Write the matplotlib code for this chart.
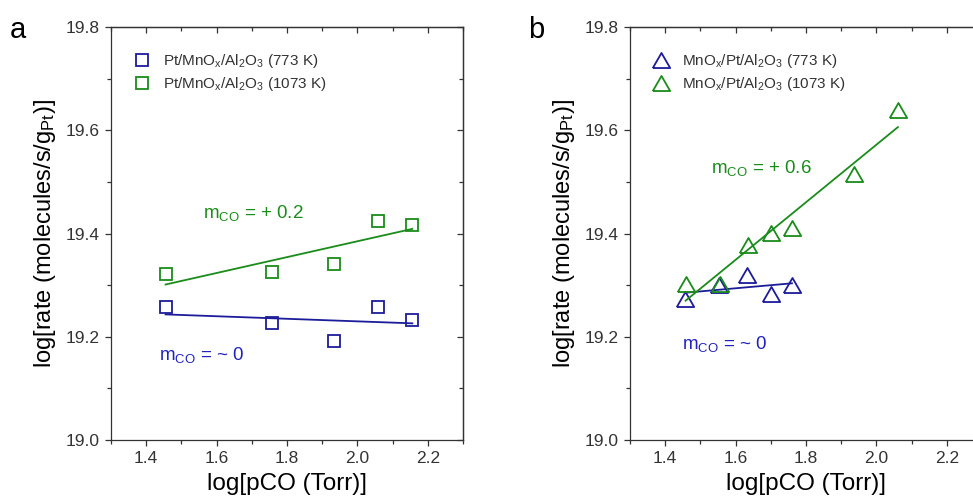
import numpy as np
import matplotlib
matplotlib.use("Agg")
import matplotlib.pyplot as plt
from matplotlib.ticker import MultipleLocator

plt.rcParams["font.family"] = ["Liberation Sans", "DejaVu Sans"]
plt.rcParams["mathtext.default"] = "regular"

### DATA ###

# panel a: Pt/MnOx/Al2O3
a_x = [1.455, 1.757, 1.934, 2.058, 2.156]
a_773 = [19.258, 19.226, 19.191, 19.258, 19.233]
a_1073 = [19.321, 19.325, 19.341, 19.425, 19.416]

# panel b: MnOx/Pt/Al2O3
b_x_773 = [1.457, 1.554, 1.633, 1.701, 1.760]
b_773 = [19.273, 19.300, 19.320, 19.283, 19.301]
b_x_1073 = [1.458, 1.556, 1.634, 1.701, 1.760, 1.936, 2.061]
b_1073 = [19.302, 19.302, 19.379, 19.402, 19.411, 19.516, 19.639]

a_labels = [r"Pt/MnO$_x$/Al$_2$O$_3$ (773 K)", r"Pt/MnO$_x$/Al$_2$O$_3$ (1073 K)"]
b_labels = [r"MnO$_x$/Pt/Al$_2$O$_3$ (773 K)", r"MnO$_x$/Pt/Al$_2$O$_3$ (1073 K)"]
a_slopes = [r"m$_{CO}$ = ~ 0", r"m$_{CO}$ = + 0.2"]
b_slopes = [r"m$_{CO}$ = ~ 0", r"m$_{CO}$ = + 0.6"]

### STYLE ###

BLUE = "#1c1c9a"
BLUE_TXT = "#2222c0"
GREEN = "#1a8c1a"
GRAY = "#333333"
TRI = [(-1, -0.866), (1, -0.866), (0, 0.866), (-1, -0.866)]


def fit_line(x, y):
    """Least-squares line over the span of the points."""
    k, b = np.polyfit(x, y, 1)
    xs = np.array([min(x), max(x)])
    return xs, k * xs + b


def set_ticks(axis):
    axis.set_major_locator(MultipleLocator(0.2))
    axis.set_minor_locator(MultipleLocator(0.1))


def style_axes(ax):
    ax.set_xlim(1.3, 2.3)
    ax.set_ylim(19.0, 19.8)
    set_ticks(ax.xaxis)
    set_ticks(ax.yaxis)
    ax.xaxis.set_major_formatter(plt.FormatStrFormatter("%.1f"))
    ax.yaxis.set_major_formatter(plt.FormatStrFormatter("%.1f"))
    for s in ax.spines.values():
        s.set_color(GRAY)
        s.set_linewidth(0.9)
    ax.tick_params(which="both", direction="out", colors=GRAY, width=0.9,
                   labelsize=12.5, pad=3.5)
    ax.tick_params(which="major", length=4.5)
    ax.tick_params(which="minor", length=2.8)

    # mirrored inward ticks on top and right
    top = ax.secondary_xaxis("top")
    right = ax.secondary_yaxis("right")
    set_ticks(top.xaxis)
    set_ticks(right.yaxis)
    for sec in [top, right]:
        sec.tick_params(which="both", direction="in", colors=GRAY, width=0.9,
                        labeltop=False, labelright=False)
        sec.tick_params(which="major", length=4.5)
        sec.tick_params(which="minor", length=2.8)
        for s in sec.spines.values():
            s.set_color(GRAY)
            s.set_linewidth(0.9)

    ax.set_xlabel("log[pCO (Torr)]", fontsize=17.5, labelpad=5)
    ax.set_ylabel(r"log[rate (molecules/s/g$_{Pt}$)]", fontsize=17, labelpad=6)


fig = plt.figure(figsize=(9.73, 5.03), dpi=100)
ax1 = fig.add_axes([0.1141, 0.1252, 0.3618, 0.8205])
ax2 = fig.add_axes([0.6475, 0.1252, 0.3618, 0.8205])

# --- panel a ---
for y, c, lab in [(a_773, BLUE, a_labels[0]), (a_1073, GREEN, a_labels[1])]:
    ax1.plot(a_x, y, ls="none", marker="s", ms=9, mew=1.3, mfc="none",
             mec=c, label=lab)
    xs, ys = fit_line(a_x, y)
    ax1.plot(xs, ys, color=c, lw=1.3)

ax1.text(1.436, 19.165, a_slopes[0], color=BLUE_TXT, fontsize=13.5, va="center")
ax1.text(1.56, 19.44, a_slopes[1], color=GREEN, fontsize=13.5, va="center")

# --- panel b ---
for x, y, c, lab in [(b_x_773, b_773, BLUE, b_labels[0]),
                     (b_x_1073, b_1073, GREEN, b_labels[1])]:
    ax2.plot(x, y, ls="none", marker=TRI, ms=12.5, mew=1.3, mfc="none",
             mec=c, label=lab)
    xs, ys = fit_line(x, y)
    ax2.plot(xs, ys, color=c, lw=1.3)

ax2.text(1.447, 19.187, b_slopes[0], color=BLUE_TXT, fontsize=13.5, va="center")
ax2.text(1.53, 19.527, b_slopes[1], color=GREEN, fontsize=13.5, va="center")

for ax in [ax1, ax2]:
    style_axes(ax)
    leg = ax.legend(loc="upper left", bbox_to_anchor=(0.035, 0.965), frameon=False,
                    fontsize=11, handlelength=1.0, handletextpad=0.9,
                    labelspacing=0.3, borderaxespad=0.3)
    for t in leg.get_texts():
        t.set_color(GRAY)

fig.text(10 / 973, 1 - 30 / 503, "a", fontsize=21, va="center", ha="left")
fig.text(528 / 973, 1 - 30 / 503, "b", fontsize=21, va="center", ha="left")

plt.savefig("out.png", dpi=100)
